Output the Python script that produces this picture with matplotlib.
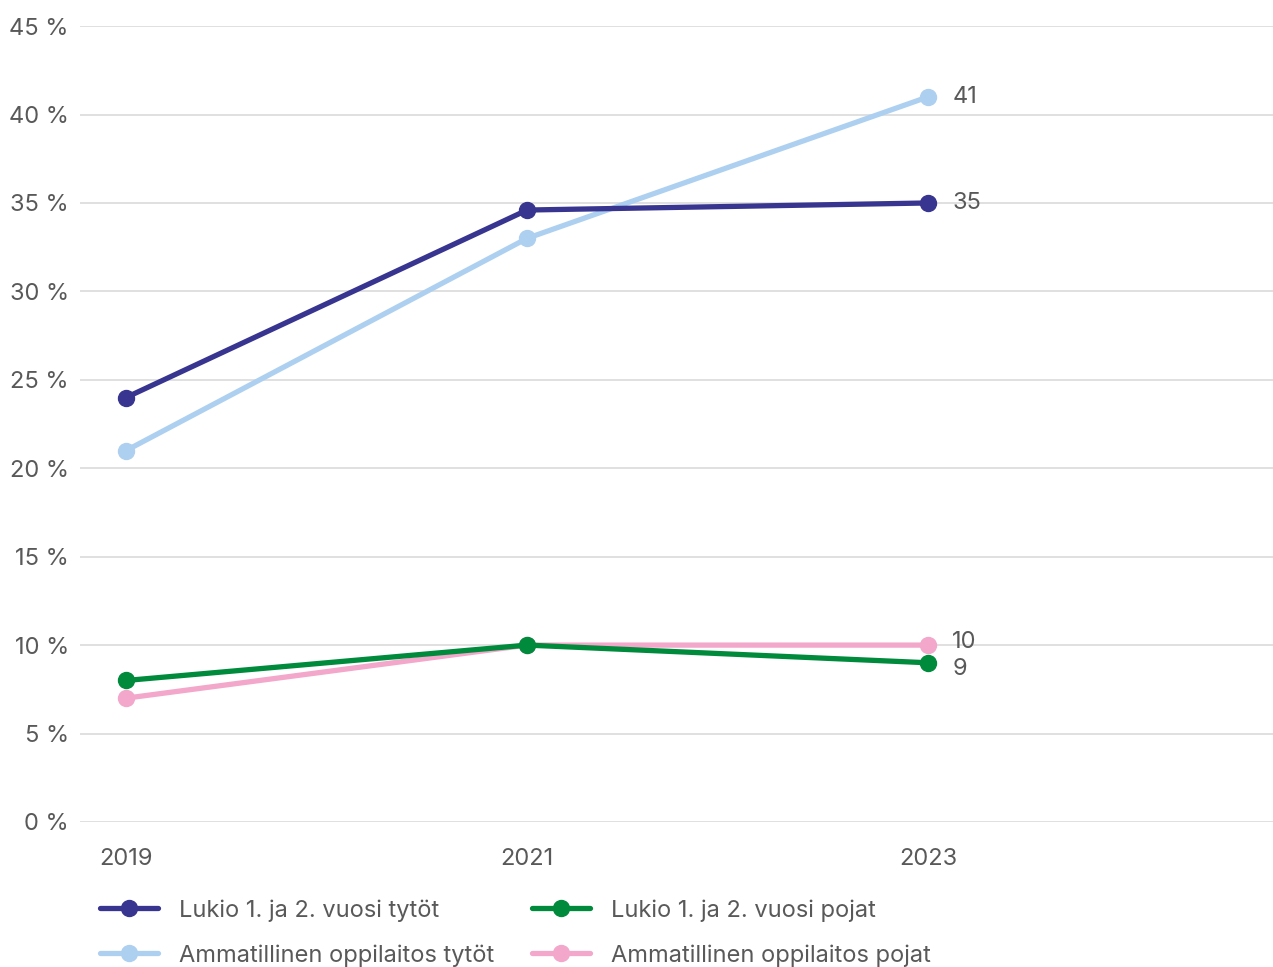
import matplotlib.pyplot as plt
from matplotlib.ticker import FuncFormatter

plt.rcParams['font.family'] = ['Inter', 'DejaVu Sans']

years = ['2019', '2021', '2023']
lukio_tytot = [24, 34.6, 35]
lukio_pojat = [8, 10, 9]
amm_tytot = [21, 33, 41]
amm_pojat = [7, 10, 10]

series = [
    ('Lukio 1. ja 2. vuosi tytöt', lukio_tytot, '#37358f'),
    ('Lukio 1. ja 2. vuosi pojat', lukio_pojat, '#008a3c'),
    ('Ammatillinen oppilaitos tytöt', amm_tytot, '#aed0f0'),
    ('Ammatillinen oppilaitos pojat', amm_pojat, '#f2a7cb'),
]
end_labels = ['35', '9', '41', '10']
label_offsets = [0, -0.35, 0, 0.15]  # pieni siirto ettei 9 ja 10 mene paallekkain

text_col = '#595959'

fig = plt.figure(figsize=(12.73, 9.67), dpi=100)
ax = fig.add_axes([0.0628, 0.150, 0.9372, 0.823])

x = list(range(len(years)))
# piirretaan vaaleansininen ennen tummaa, jotta tumma jaa paalle
order = [2, 3, 1, 0]
handles = {}
for i in order:
    name, vals, col = series[i]
    h, = ax.plot(x, vals, color=col, lw=3.8, marker='o', ms=11.5,
                 solid_capstyle='round', label=name, zorder=3)
    handles[i] = h
    ax.text(x[-1] + 0.06, vals[-1] + label_offsets[i], end_labels[i],
            color=text_col, fontsize=17, va='center', ha='left')

ax.set_xlim(-0.115, 2.86)
ax.set_ylim(0, 45)
ax.set_yticks(range(0, 46, 5))
ax.yaxis.set_major_formatter(FuncFormatter(lambda v, p: f'{int(v)} %'))
ax.set_xticks(x)
ax.set_xticklabels(years)
ax.tick_params(length=0, labelsize=17, labelcolor=text_col)
ax.tick_params(axis='y', pad=8)
ax.tick_params(axis='x', pad=19)
ax.grid(axis='y', color='#dddddd', lw=1.3)
ax.set_axisbelow(True)
for s in ax.spines.values():
    s.set_visible(False)

fig.legend([handles[0], handles[2], handles[1], handles[3]],
           [series[0][0], series[2][0], series[1][0], series[3][0]],
           ncol=2, loc='upper left', bbox_to_anchor=(0.0786, 0.0703),
           frameon=False, fontsize=17, labelcolor=text_col,
           handlelength=2.45, handletextpad=0.9, columnspacing=1.6,
           labelspacing=0.96, borderaxespad=0, borderpad=0)

fig.savefig('out.png', dpi=100)
